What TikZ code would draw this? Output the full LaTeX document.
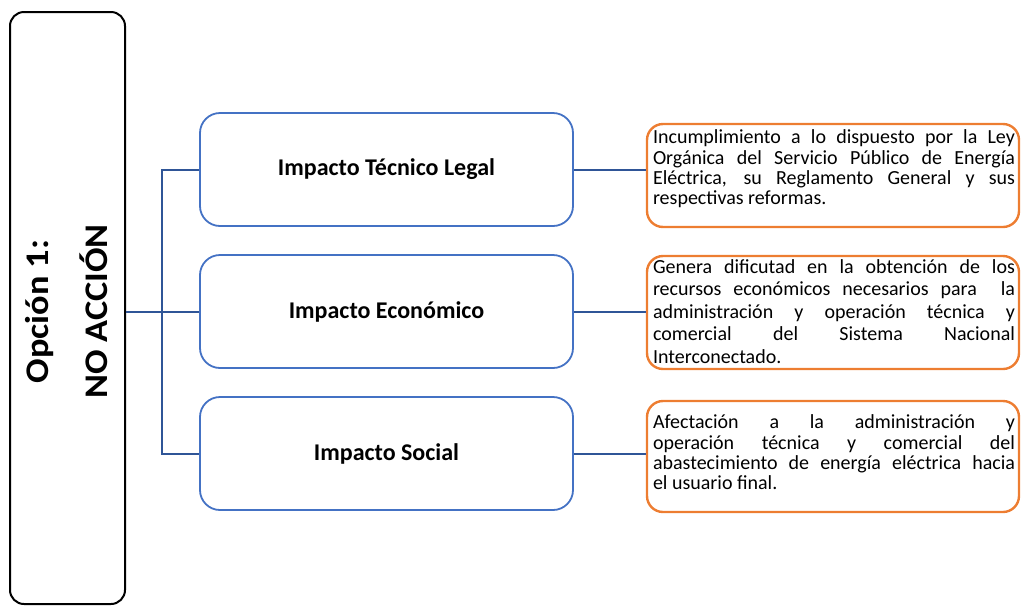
\documentclass[tikz,border=0pt]{standalone}
\usepackage{fontspec}
\setmainfont{Carlito}
\definecolor{boxblue}{HTML}{4472C4}
\definecolor{lineblue}{HTML}{2F5597}
\definecolor{boxorange}{HTML}{ED7D31}
\begin{document}
\begin{tikzpicture}[x=1pt,y=-1pt,
  mainbox/.style={draw=black,line width=2pt,rounded corners=14pt,minimum width=115pt,minimum height=592pt,inner sep=0pt},
  maintext/.style={rotate=90,anchor=base,inner sep=0pt,font=\fontsize{33}{38}\selectfont\bfseries},
  impbox/.style={draw=boxblue,line width=1.8pt,rounded corners=20pt,minimum width=373pt,minimum height=113pt,inner sep=0pt,font=\fontsize{24}{28}\selectfont\bfseries},
  descbox/.style={draw=boxorange,line width=2.4pt,rounded corners=16pt,minimum width=372pt,inner sep=0pt},
  desctext/.style={text width=362pt,align=justify,inner sep=0pt},
  conn/.style={draw=lineblue,line width=2pt}]
\useasboundingbox (0,0) rectangle (1021,606);
\node[mainbox] (main) at (67.5,308) {};
\node[maintext] (line1) at (48,311.5) {\scalebox{1.1}[1]{Opción 1:}};
\node[maintext] (line2) at (107,311.5) {\scalebox{1.1}[1]{NO ACCIÓN}};

\node[impbox] (i1) at (386.5,169.5) {Impacto Técnico Legal};
\node[impbox] (i2) at (386.5,311.5) {Impacto Económico};
\node[impbox] (i3) at (386.5,453.5) {Impacto Social};

\node[descbox,minimum height=103pt] (d1) at (833,175.5) {};
\node[descbox,minimum height=113pt] (d2) at (833,312.5) {};
\node[descbox,minimum height=111pt] (d3) at (833,456.5) {};

\node[desctext,font=\fontsize{20}{20.3}\selectfont] (t1) at (834,169) {Incumplimiento a lo dispuesto por la Ley\linebreak Orgánica del Servicio Público de Energía\linebreak Eléctrica, su Reglamento General y sus\linebreak respectivas reformas.};
\node[desctext,font=\fontsize{20}{22.5}\selectfont] (t2) at (834,311.5) {Genera dificutad en la obtención de los\linebreak recursos económicos necesarios para\ \ la\linebreak administración y operación técnica y\linebreak comercial del Sistema Nacional\linebreak Interconectado.};
\node[desctext,font=\fontsize{20}{20.2}\selectfont] (t3) at (834,452.4) {Afectación a la administración y\linebreak operación técnica y comercial del\linebreak abastecimiento de energía eléctrica hacia\linebreak el usuario final.};

\coordinate (trunk) at (162,312);
\draw[conn] (main.east |- i2.west) -- (i2.west);
\draw[conn] (i1.west) -- (trunk |- i1.west) -- (trunk |- i3.west) -- (i3.west);
\draw[conn] (i1.east) -- (i1.east -| d1.west);
\draw[conn] (i2.east) -- (i2.east -| d2.west);
\draw[conn] (i3.east) -- (i3.east -| d3.west);
\end{tikzpicture}
\end{document}
